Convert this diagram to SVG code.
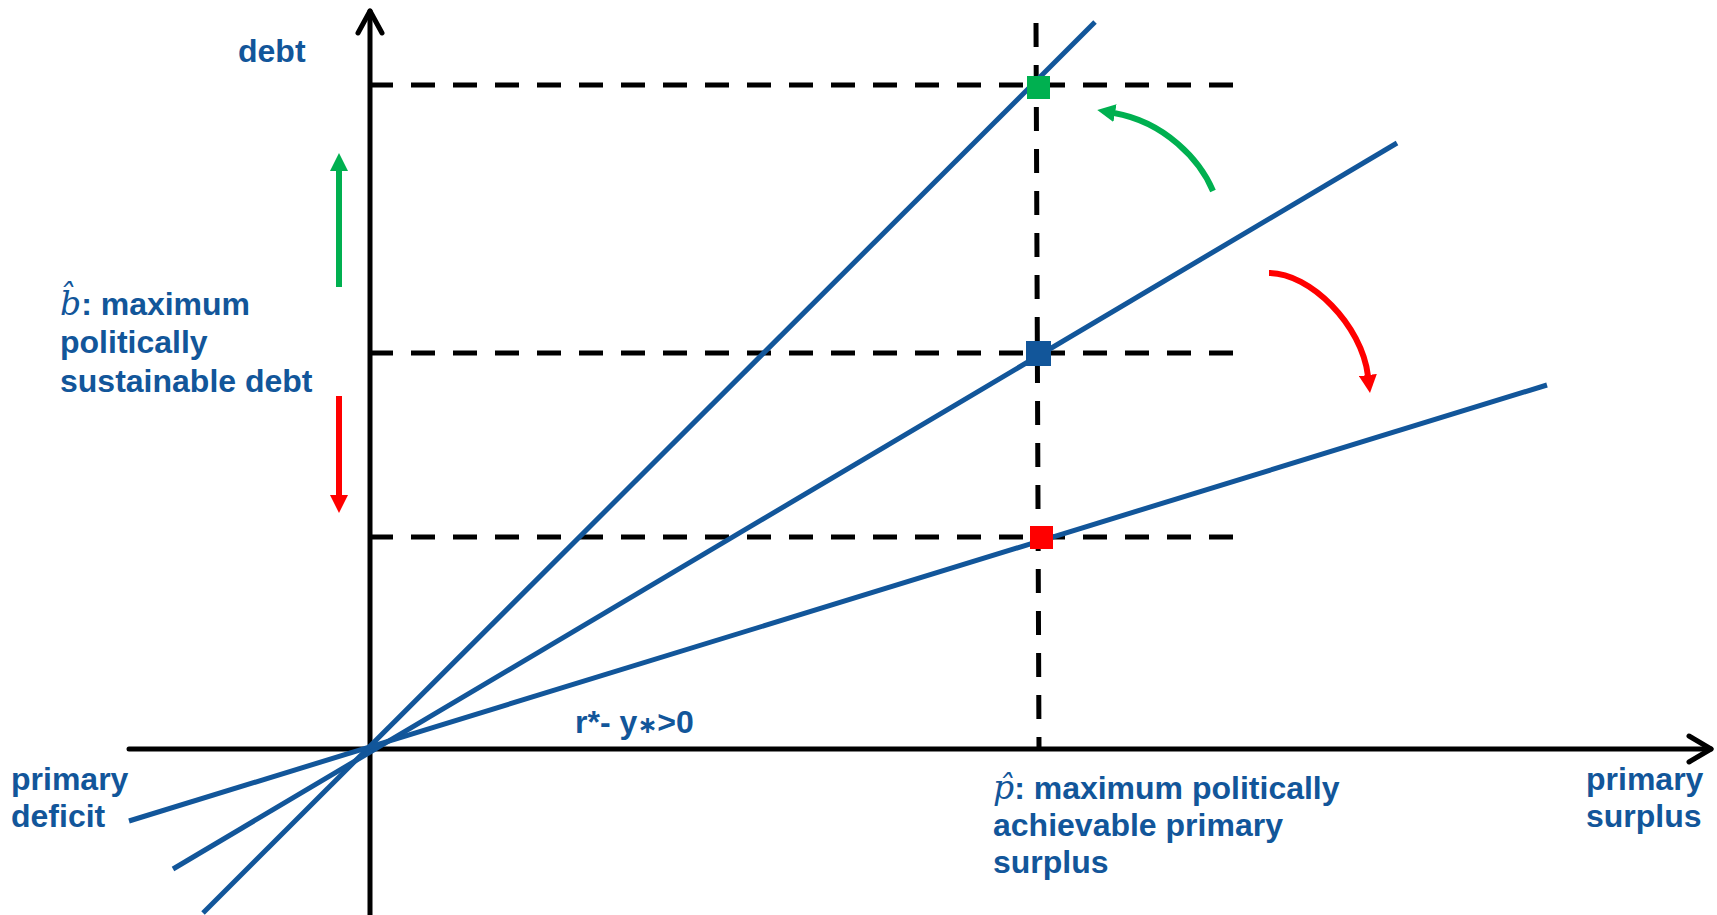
<svg xmlns="http://www.w3.org/2000/svg" width="1717" height="915" viewBox="0 0 1717 915">
<style>
.axis{stroke:#000;stroke-width:5;fill:none;stroke-linecap:round;stroke-linejoin:round}
.dash{stroke:#000;stroke-width:5;fill:none;stroke-dasharray:24 18}
.curve{stroke:#12569A;stroke-width:5;fill:none}
.lbl{font-family:"Liberation Sans",Arial,sans-serif;font-weight:bold;font-size:32px;fill:#12569A}
.math{font-family:"DejaVu Serif","Liberation Serif",serif;font-style:italic;font-weight:normal;font-size:33px}
.ast{font-family:"DejaVu Sans",sans-serif;font-size:24px}
.g{stroke:#00B050;stroke-width:6;fill:none}
.r{stroke:#FF0000;stroke-width:6;fill:none}
</style>
<defs>
<marker id="hg" markerUnits="userSpaceOnUse" markerWidth="18" markerHeight="18" refX="1" refY="9" orient="auto"><path d="M0,0 L18,9 L0,18 Z" fill="#00B050"/></marker>
<marker id="hr" markerUnits="userSpaceOnUse" markerWidth="18" markerHeight="18" refX="1" refY="9" orient="auto"><path d="M0,0 L18,9 L0,18 Z" fill="#FF0000"/></marker>
</defs>
<rect width="1717" height="915" fill="#fff"/>
<g id="connectors">
<g id="axes">
<path class="axis" d="M370,915 L370,11"/>
<path class="axis" d="M358,33 L370,11 L382,33"/>
<path class="axis" d="M129,749 L1711,749"/>
<path class="axis" d="M1689,736 L1711,749 L1689,762"/>
</g>
<g id="guides">
<path class="dash" d="M369,85 L1234,85"/>
<path class="dash" d="M369,353 L1234,353"/>
<path class="dash" d="M369,537 L1234,537"/>
<path class="dash" d="M1036,23 L1039,749"/>
</g>
<g id="rays">
<path class="curve" d="M203,913 L1095,22"/>
<path class="curve" d="M173,869 L1397,143"/>
<path class="curve" d="M129,821 L1547,385"/>
</g>
<g id="shift-arrows">
<path class="g" d="M339,287 L339,170" marker-end="url(#hg)"/>
<path class="r" d="M339,396 L339,496" marker-end="url(#hr)"/>
<path class="g" d="M1213,191 C1200,160 1165,122 1114,113" marker-end="url(#hg)"/>
<path class="r" d="M1269,273 C1310,273 1362,325 1368,376" marker-end="url(#hr)"/>
</g>
</g>
<g id="point-high"><rect x="1027" y="76" width="23" height="23" fill="#00B050"/></g>
<g id="point-mid"><rect x="1026" y="341" width="25" height="25" fill="#12569A"/></g>
<g id="point-low"><rect x="1030" y="526" width="23" height="23" fill="#FF0000"/></g>
<g id="label-debt"><text class="lbl" x="238" y="62">debt</text></g>
<g id="label-bhat"><text class="lbl"><tspan x="60" y="315"><tspan class="math">b̂</tspan>: maximum</tspan><tspan x="60" y="353">politically</tspan><tspan x="60" y="392">sustainable debt</tspan></text></g>
<g id="label-deficit"><text class="lbl"><tspan x="11" y="790">primary</tspan><tspan x="11" y="827">deficit</tspan></text></g>
<g id="label-surplus"><text class="lbl"><tspan x="1586" y="790">primary</tspan><tspan x="1586" y="827">surplus</tspan></text></g>
<g id="label-phat"><text class="lbl"><tspan x="993" y="799"><tspan class="math">p̂</tspan>: maximum politically</tspan><tspan x="993" y="836">achievable primary</tspan><tspan x="993" y="873">surplus</tspan></text></g>
<g id="label-r"><text class="lbl" x="575" y="733">r*- y<tspan class="ast">∗</tspan>&gt;0</text></g>
</svg>
